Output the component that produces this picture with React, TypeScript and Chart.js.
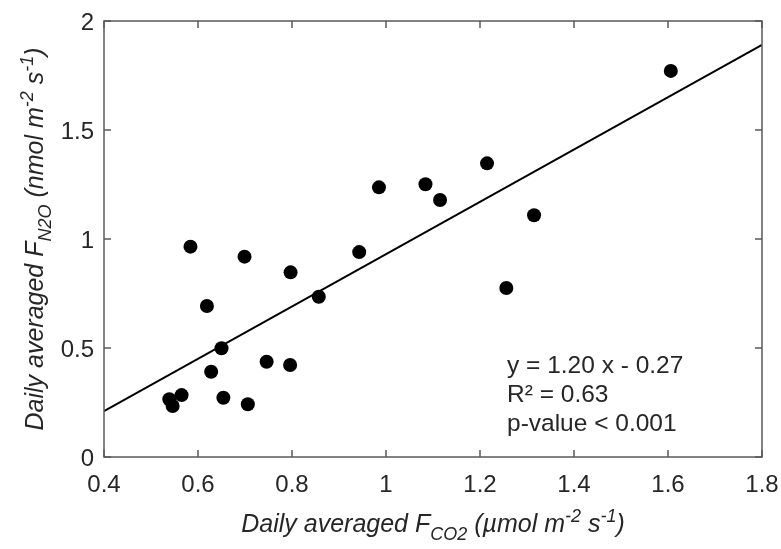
import React, { useEffect, useRef } from 'react';
import { Chart, registerables } from 'chart.js';

Chart.register(...registerables);

// Daily averaged CO2 flux (µmol m-2 s-1)
const co2Flux = [
  0.584, 0.699, 0.619, 0.650, 0.746, 0.796, 0.628, 0.565, 0.539, 0.546, 0.654,
  0.706, 0.797, 0.857, 0.943, 0.985, 1.084, 1.115, 1.215, 1.315, 1.256, 1.606,
];
// Daily averaged N2O flux (nmol m-2 s-1)
const n2oFlux = [
  0.965, 0.919, 0.693, 0.499, 0.437, 0.422, 0.391, 0.284, 0.265, 0.234, 0.272,
  0.242, 0.847, 0.735, 0.940, 1.237, 1.251, 1.179, 1.347, 1.109, 0.775, 1.771,
];
// Regression line end points (y = 1.20 x - 0.27)
const fitLineX = [0.4, 1.8];
const fitLineY = [0.21, 1.89];

const xTicks = [0.4, 0.6, 0.8, 1, 1.2, 1.4, 1.6, 1.8];
const yTicks = [0, 0.5, 1, 1.5, 2];
const xTickLabels = ['0.4', '0.6', '0.8', '1', '1.2', '1.4', '1.6', '1.8'];
const yTickLabels = ['0', '0.5', '1', '1.5', '2'];
const annotationLines = ['y = 1.20 x - 0.27', 'R\u00B2 = 0.63', 'p-value < 0.001'];

type Seg = { t: string; sub?: boolean; sup?: boolean };
const xTitle: Seg[] = [
  { t: 'Daily averaged F' },
  { t: 'CO2', sub: true },
  { t: ' (\u00B5mol m' },
  { t: '-2', sup: true },
  { t: ' s' },
  { t: '-1', sup: true },
  { t: ')' },
];
const yTitle: Seg[] = [
  { t: 'Daily averaged F' },
  { t: 'N2O', sub: true },
  { t: ' (nmol m' },
  { t: '-2', sup: true },
  { t: ' s' },
  { t: '-1', sup: true },
  { t: ')' },
];

const FONT = '"Liberation Sans", Arial, Helvetica, sans-serif';
const TEXT = '#262626';

function drawRich(ctx: CanvasRenderingContext2D, segs: Seg[], size: number) {
  const small = Math.round(size * 0.72);
  const fontOf = (s: Seg) => `italic ${s.sub || s.sup ? small : size}px ${FONT}`;
  let total = 0;
  for (const s of segs) {
    ctx.font = fontOf(s);
    total += ctx.measureText(s.t).width;
  }
  let x = -total / 2;
  ctx.textBaseline = 'alphabetic';
  ctx.textAlign = 'left';
  for (const s of segs) {
    ctx.font = fontOf(s);
    const dy = s.sub ? size * 0.32 : s.sup ? -size * 0.42 : 0;
    ctx.fillText(s.t, x, dy);
    x += ctx.measureText(s.t).width;
  }
}

const framePlugin = {
  id: 'frame',
  afterDraw(chart: any) {
    const { ctx, chartArea } = chart;
    const { left, right, top, bottom } = chartArea;
    const xs = chart.scales.x;
    const ys = chart.scales.y;
    ctx.save();
    ctx.strokeStyle = '#5a5a5a';
    ctx.lineWidth = 1.5;
    ctx.strokeRect(left, top, right - left, bottom - top);
    const tl = 7;
    ctx.beginPath();
    for (const v of xTicks) {
      const px = xs.getPixelForValue(v);
      ctx.moveTo(px, bottom);
      ctx.lineTo(px, bottom - tl);
      ctx.moveTo(px, top);
      ctx.lineTo(px, top + tl);
    }
    for (const v of yTicks) {
      const py = ys.getPixelForValue(v);
      ctx.moveTo(left, py);
      ctx.lineTo(left + tl, py);
      ctx.moveTo(right, py);
      ctx.lineTo(right - tl, py);
    }
    ctx.stroke();

    ctx.fillStyle = TEXT;
    // tick labels
    ctx.font = `24px ${FONT}`;
    ctx.textAlign = 'center';
    ctx.textBaseline = 'alphabetic';
    xTicks.forEach((v, i) => {
      ctx.fillText(xTickLabels[i], xs.getPixelForValue(v), bottom + 35);
    });
    ctx.textAlign = 'right';
    yTicks.forEach((v, i) => {
      ctx.fillText(yTickLabels[i], left - 10, ys.getPixelForValue(v) + 9);
    });

    // x title
    ctx.save();
    ctx.translate((left + right) / 2, 532);
    drawRich(ctx, xTitle, 25);
    ctx.restore();
    // y title
    ctx.save();
    ctx.translate(43, (top + bottom) / 2);
    ctx.rotate(-Math.PI / 2);
    drawRich(ctx, yTitle, 25);
    ctx.restore();

    // annotation
    ctx.font = `24.5px ${FONT}`;
    ctx.textAlign = 'left';
    ctx.textBaseline = 'alphabetic';
    annotationLines.forEach((line, i) => {
      ctx.fillText(line, 507, 373 + i * 29);
    });
    ctx.restore();
  },
};

export default function App() {
  const ref = useRef<HTMLCanvasElement | null>(null);
  useEffect(() => {
    if (!ref.current) return;
    const chart = new Chart(ref.current, {
      type: 'scatter',
      data: {
        datasets: [
          {
            label: 'Fit',
            data: fitLineX.map((x, i) => ({ x, y: fitLineY[i] })),
            showLine: true,
            borderColor: '#000000',
            borderWidth: 2,
            pointRadius: 0,
            order: 2,
          } as any,
          {
            label: 'Daily averages',
            data: co2Flux.map((x, i) => ({ x, y: n2oFlux[i] })),
            backgroundColor: '#000000',
            borderWidth: 0,
            pointRadius: 7,
            pointHoverRadius: 7,
            order: 1,
          },
        ],
      },
      options: {
        animation: false,
        responsive: true,
        maintainAspectRatio: false,
        layout: { padding: { top: 21, right: 19, left: 0, bottom: 0 } },
        plugins: { legend: { display: false }, tooltip: { enabled: false } },
        scales: {
          x: {
            type: 'linear',
            min: 0.4,
            max: 1.8,
            afterBuildTicks: (s: any) => {
              s.ticks = xTicks.map((v) => ({ value: v }));
            },
            afterFit: (s: any) => {
              s.height = 92;
              s.paddingLeft = 0;
              s.paddingRight = 0;
            },
            grid: { display: false, drawTicks: false },
            border: { display: false },
            ticks: { display: false },
          },
          y: {
            type: 'linear',
            min: 0,
            max: 2,
            afterBuildTicks: (s: any) => {
              s.ticks = yTicks.map((v) => ({ value: v }));
            },
            afterFit: (s: any) => {
              s.width = 104;
              s.paddingTop = 0;
              s.paddingBottom = 0;
            },
            grid: { display: false, drawTicks: false },
            border: { display: false },
            ticks: { display: false },
          },
        },
      },
      plugins: [framePlugin],
    });
    return () => chart.destroy();
  }, []);
  return (
    <div style={{ position: 'fixed', left: 0, top: 0, width: 781, height: 549 }}>
      <canvas ref={ref} />
    </div>
  );
}
